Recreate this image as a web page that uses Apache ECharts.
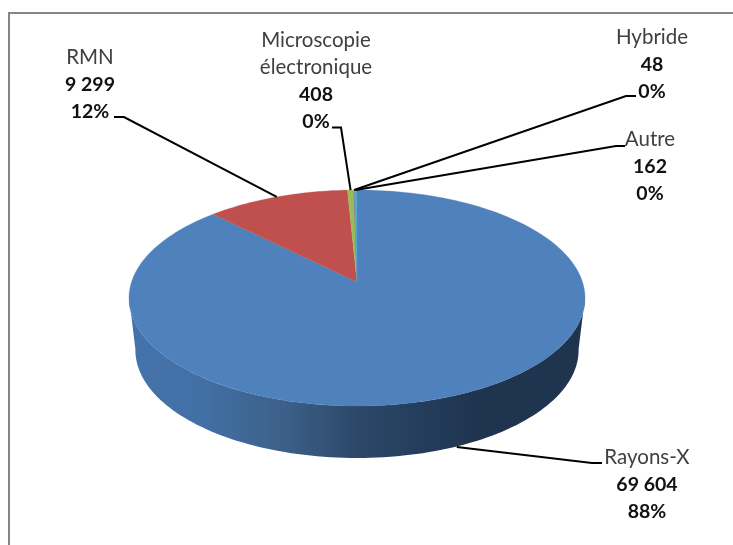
<!DOCTYPE html>
<html>
<head>
<meta charset="utf-8">
<style>html,body{margin:0;padding:0;background:#fff}#c{width:733px;height:545px}</style>
<script src="https://cdn.jsdelivr.net/npm/echarts@6/dist/echarts.min.js"></script>
</head>
<body>
<div id="c"></div>
<script>
// Data
var names = ['Rayons-X', 'RMN', 'Microscopie\nélectronique', 'Hybride', 'Autre'];
var values = [69604, 9299, 408, 48, 162];
var valueLabels = ['69 604', '9 299', '408', '48', '162'];
var percentLabels = ['88%', '12%', '0%', '0%', '0%'];
var colors = ['#4F81BD', '#C0504D', '#9BBB59', '#8064A2', '#4BACC6'];

// Layout (not data)
var cx = 357, apexY = 282, rx = 225.5, topY = 190, bottomY = 406, depth = 52, lowerScale = 0.972;
var labelPos = [[647, 444], [90, 44], [316, 27], [652, 24], [650, 126]];
var elbows = [[[602, 463], [592, 463]], [[114, 117], [124, 117]], [[332, 127.5], [341, 127.5]], [[636, 96], [626, 96]], [[625, 146], [616, 146]]];

// Projection of the tilted disc: angle clockwise from 12 o'clock -> screen
var C = (2 * apexY - topY - bottomY) / (topY - bottomY);
var A = topY + topY * C - apexY;
function proj(deg, lower) {
  var t = deg * Math.PI / 180, u = Math.sin(t), v = Math.cos(t), d = 1 + C * v;
  var x = rx * u / d, y = (A * v + apexY) / d;
  if (lower) { x *= lowerScale; y += depth; }
  return [cx + x, y];
}
function arc(a, b, lower) {
  var n = Math.max(2, Math.ceil(Math.abs(b - a) / 1.5)), p = [];
  for (var i = 0; i <= n; i++) p.push(proj(a + (b - a) * i / n, lower));
  return p;
}
var total = values.reduce(function (s, v) { return s + v; }, 0);
function startAngle(i) {
  var s = 0;
  for (var k = 0; k < i; k++) s += values[k];
  return s / total * 360;
}
var wallStart = 98, wallEnd = 262;
var wallGrad = { type: 'linear', global: true, x: 129, y: 0, x2: 585, y2: 0, colorStops: [
  { offset: 0, color: '#4472AA' }, { offset: 0.16, color: '#4270A6' }, { offset: 0.34, color: '#3C6088' },
  { offset: 0.5, color: '#2C4869' }, { offset: 0.64, color: '#253D5C' }, { offset: 0.76, color: '#1F344F' }, { offset: 1, color: '#1F344F' }
] };

function renderItem(params, api) {
  var i = params.dataIndex, share = api.value(0) / total * 360, a = startAngle(i), b = a + share, mid = a + share / 2;
  var children = [];
  if (i === 0) {
    children.push({ type: 'polygon', z2: 1, shape: { points: arc(wallStart, wallEnd, false).concat(arc(wallEnd, wallStart, true)) },
      style: { fill: wallGrad } });
  }
  children.push({ type: 'polygon', z2: 2 + i, shape: { points: [[cx, apexY]].concat(arc(a, b, false)) },
    style: { fill: colors[i], stroke: colors[i], lineWidth: 0.3 } });
  var isFront = mid > wallStart && mid < wallEnd;
  var end = proj(mid, false);
  if (isFront) end = [end[0], end[1] + depth];
  var pts = elbows[i].concat([end]);
  children.push({ type: 'polyline', z2: 20, shape: { points: pts },
    style: { stroke: '#000', lineWidth: 2, fill: null } });
  var nm = names[i].split('\n').map(function (s) { return '{n|' + s + '}'; }).join('\n');
  children.push({ type: 'text', z2: 30, x: labelPos[i][0], y: labelPos[i][1], style: {
    text: nm + '\n{v|' + valueLabels[i] + '}\n{v|' + percentLabels[i] + '}',
    align: 'center', verticalAlign: 'top',
    rich: {
      n: { fontFamily: 'Lato', fontSize: 20.5, fill: '#404040', lineHeight: 27, align: 'center' },
      v: { fontFamily: 'Lato', fontSize: 19.5, fontWeight: 'bold', fill: '#111', lineHeight: 27, align: 'center' }
    }
  } });
  return { type: 'group', children: children };
}

var chart = echarts.init(document.getElementById('c'), null, { renderer: 'canvas' });
chart.setOption({
  animation: false,
  backgroundColor: '#fff',
  graphic: [{ type: 'polyline', silent: true, shape: { points: [[9, 547], [9, 13], [735, 13]] },
    style: { stroke: '#868686', lineWidth: 2, fill: null } }],
  series: [{
    type: 'custom', coordinateSystem: 'none', silent: true,
    data: values.map(function (v) { return [v]; }),
    renderItem: renderItem
  }]
});
</script>
</body>
</html>
